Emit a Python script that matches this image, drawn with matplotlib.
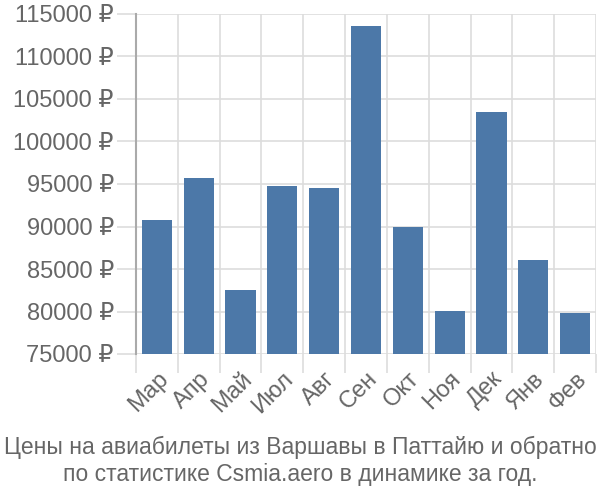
import matplotlib
matplotlib.use("Agg")
import matplotlib.pyplot as plt
import numpy as np

months = ["Мар", "Апр", "Май", "Июл", "Авг", "Сен", "Окт", "Ноя", "Дек", "Янв", "Фев"]
prices = [90800, 95750, 82550, 94800, 94500, 113550, 89950, 80100, 103500, 86100, 79850]
yticks = [75000, 80000, 85000, 90000, 95000, 100000, 105000, 110000, 115000]

plt.rcParams['font.family'] = ['Liberation Sans', 'DejaVu Sans']
fig = plt.figure(figsize=(6, 5), dpi=100)
ax = fig.add_axes([136/600, 1-354/500, 460/600, 340/500])

x = np.arange(len(months))
ax.bar(x, [p - 75000 for p in prices], bottom=75000, width=0.72, color="#4c78a8", zorder=3)

ax.set_xlim(-0.5, len(months) - 0.5)
ax.set_ylim(75000, 115000)
ax.set_yticks(yticks)
ax.set_yticklabels([f"{v} ₽" for v in yticks], fontsize=17, color="#666666")
ax.set_xticks(x)
ax.set_xticklabels(months, rotation=45, ha="right", rotation_mode="anchor", fontsize=17, color="#666666")
ax.set_xticks(np.arange(-0.5, len(months)), minor=True)
ax.tick_params(axis='x', which='major', length=0, pad=10)
ax.tick_params(axis='x', which='minor', length=14, color="#dddddd", width=1.2)
ax.tick_params(axis='y', length=14, color="#dddddd", width=1.2, pad=2)

ax.grid(True, axis='y', color="#dddddd", linewidth=1.2, zorder=0)
ax.grid(True, axis='x', which='minor', color="#dddddd", linewidth=1.2, zorder=0)
for s in ["top", "right", "bottom"]:
    ax.spines[s].set_visible(False)
ax.spines["left"].set_color("#aaaaaa")
ax.spines["left"].set_linewidth(1.5)

fig.text(0.5, 1 - 447/500, "Цены на авиабилеты из Варшавы в Паттайю и обратно", ha="center", va="center", fontsize=16.5, color="#666666")
fig.text(0.5, 1 - 475/500, "по статистике Csmia.aero в динамике за год.", ha="center", va="center", fontsize=16.5, color="#666666")

fig.savefig("out.png", dpi=100)
